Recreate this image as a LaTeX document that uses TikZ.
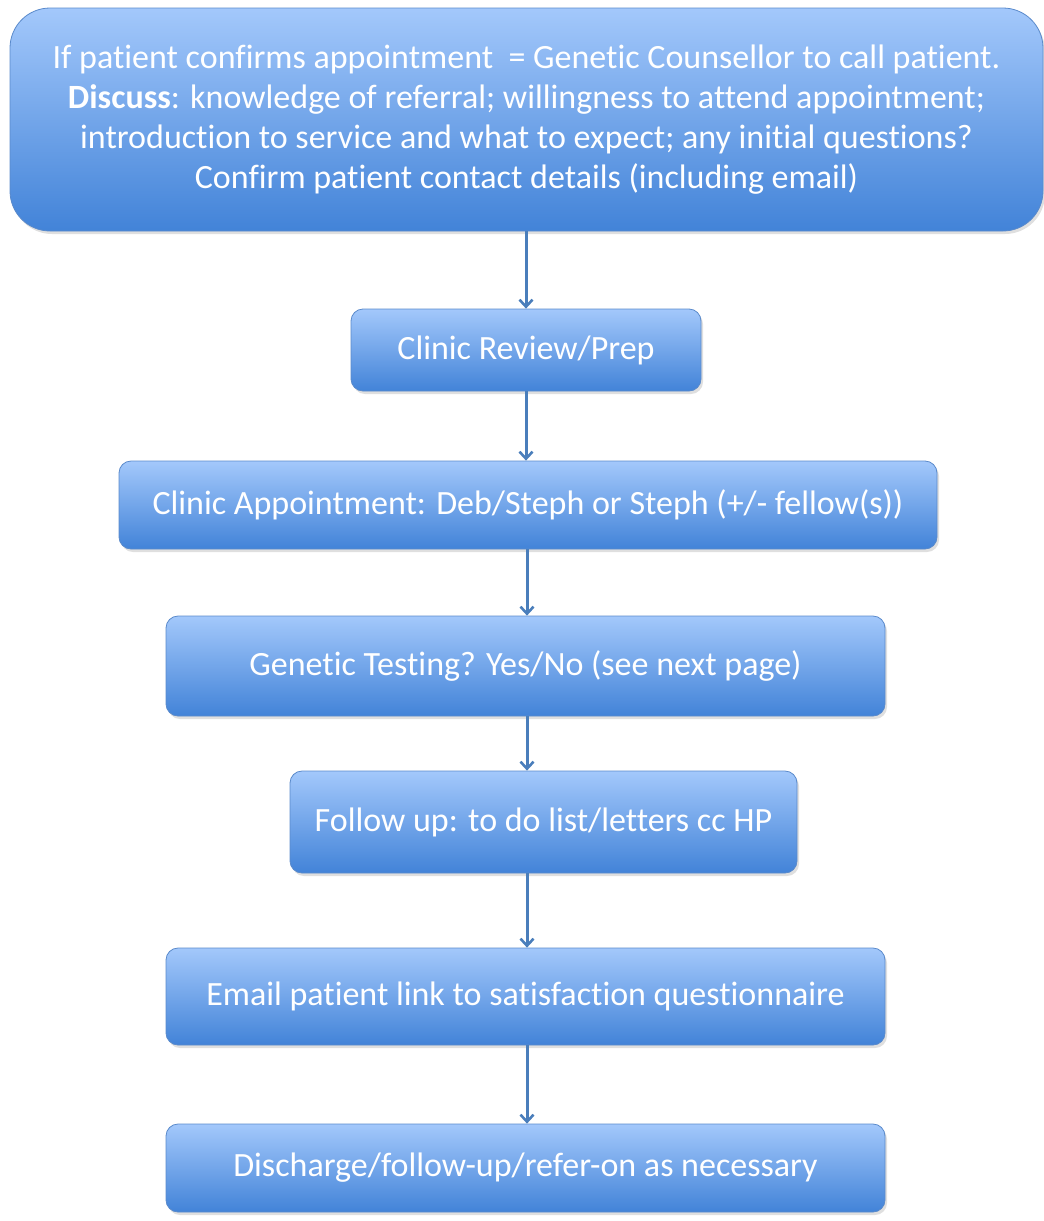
\documentclass[tikz,border=0pt]{standalone}
\usepackage{fontspec}
\setmainfont[Ligatures=NoCommon]{Carlito}
\usetikzlibrary{shadows,arrows.meta}
\definecolor{boxtop}{HTML}{A3C8FB}
\definecolor{boxbot}{HTML}{4283D8}
\definecolor{boxline}{HTML}{5A8ACB}
\definecolor{arrcol}{HTML}{4A7EBB}
\tikzset{
  flowbox/.style={rectangle, draw=boxline, line width=0.8pt, top color=boxtop, bottom color=boxbot,
    text=white, align=center, inner sep=0pt,
    font=\fontsize{34}{40}\selectfont,
    drop shadow={opacity=0.25, shadow xshift=2pt, shadow yshift=-3pt}},
  arr/.style={draw=arrcol, line width=3pt, -{Straight Barb[length=7pt,width=13pt,line width=2.6pt]}}
}
\begin{document}
\begin{tikzpicture}[x=1pt,y=-1pt]
\useasboundingbox (0,0) rectangle (1044,1221);
\node[flowbox, rounded corners=40pt, minimum width=1033pt, minimum height=223pt] (b1) at (526.5,119.5)
  {If patient confirms appointment\ \ = Genetic Counsellor to call patient.\\
   \textbf{Discuss}: knowledge of referral; willingness to attend appointment;\\
   introduction to service and what to expect; any initial questions?\\
   Confirm patient contact details (including email)};
\node[flowbox, rounded corners=12pt, minimum width=350pt, minimum height=82pt] (b2) at (526,350) {Clinic Review/Prep};
\node[flowbox, rounded corners=12pt, minimum width=818pt, minimum height=88pt] (b3) at (528,505) {Clinic Appointment: Deb/Steph or Steph (+/- fellow(s))};
\node[flowbox, rounded corners=12pt, minimum width=719pt, minimum height=100pt] (b4) at (525.5,666) {Genetic Testing? Yes/No (see next page)};
\node[flowbox, rounded corners=12pt, minimum width=507pt, minimum height=102pt] (b5) at (543.5,822) {Follow up: to do list/letters cc HP};
\node[flowbox, rounded corners=12pt, minimum width=719pt, minimum height=97pt] (b6) at (525.5,996.5) {Email patient link to satisfaction questionnaire};
\node[flowbox, rounded corners=12pt, minimum width=719pt, minimum height=88pt] (b7) at (525.5,1168) {Discharge/follow-up/refer-on as necessary};
\coordinate (ax) at (526,0);
\coordinate (bx) at (527,0);
\draw[arr] (b1.south -| ax) -- (b2.north -| ax);
\draw[arr] (b2.south -| ax) -- (b3.north -| ax);
\draw[arr] (b3.south -| bx) -- (b4.north -| bx);
\draw[arr] (b4.south -| bx) -- (b5.north -| bx);
\draw[arr] (b5.south -| bx) -- (b6.north -| bx);
\draw[arr] (b6.south -| bx) -- (b7.north -| bx);
\end{tikzpicture}
\end{document}
